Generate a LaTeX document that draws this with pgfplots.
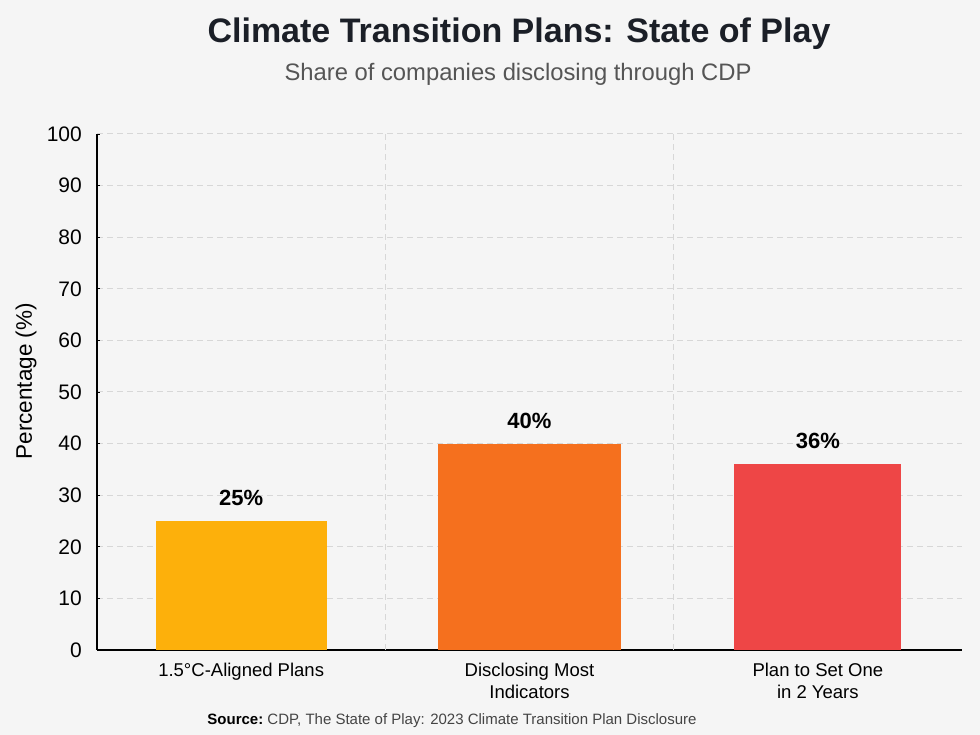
\documentclass[border=0pt]{standalone}
\usepackage{pgfplots}
\pgfplotsset{compat=1.18}
\usepackage{fontspec}
\setmainfont{Liberation Sans}

\definecolor{bg}{HTML}{F5F5F5}
\definecolor{gridc}{HTML}{D7D7D7}
\definecolor{amber}{HTML}{FDB00B}
\definecolor{orangeb}{HTML}{F5701E}
\definecolor{redb}{HTML}{EE4646}
\definecolor{titlec}{HTML}{1B1F27}
\definecolor{subc}{HTML}{555555}
\definecolor{srcc}{HTML}{444444}

\begin{document}
\begin{tikzpicture}[x=1pt,y=1pt]
  \fill[bg] (0,0) rectangle (980,735);
  \useasboundingbox (0,0) rectangle (980,735);

  % headings
  \node[anchor=base, inner sep=0pt, text=titlec,
        font=\fontsize{34}{40}\selectfont\bfseries] at (519,692)
        {Climate Transition Plans: State of Play};
  \node[anchor=base, inner sep=0pt, text=subc,
        font=\fontsize{23.8}{28}\selectfont] at (518,654)
        {Share of companies disclosing through CDP};

  \begin{axis}[
    at={(97pt,85pt)}, anchor=south west,
    scale only axis, width=865pt, height=516pt,
    xmin=-0.5, xmax=2.5, ymin=0, ymax=100,
    ytick={0,10,...,100},
    xtick={0,1,2},
    xticklabels={1.5°C-Aligned Plans, Disclosing Most\\Indicators, Plan to Set One\\in 2 Years},
    extra x ticks={0.5,1.5},
    extra x tick labels={},
    extra x tick style={grid=major, major tick length=0pt},
    ymajorgrids=true,
    grid style={gridc, line width=1pt, dash pattern=on 6pt off 4pt},
    axis x line*=bottom, axis y line*=left,
    axis line style={black, line width=1.2pt, -},
    xtick style={draw=none},
    ytick style={black, line width=0.8pt},
    tick align=inside, major tick length=3pt,
    /pgf/number format/assume math mode=true,
    yticklabel style={font=\fontsize{21}{25}\selectfont, text=black,
                      inner sep=0pt, anchor=east, xshift=-15pt},
    xticklabel style={font=\fontsize{18.5}{21.5}\selectfont, text=black,
                      inner sep=0pt, anchor=north, align=center, yshift=-10pt},
    ylabel={Percentage (\%)},
    ylabel style={font=\fontsize{22.5}{27}\selectfont, text=black, inner sep=0pt,
                  at={(axis description cs:-0.082,0.521)}, anchor=center},
    ybar,
    nodes near coords={\pgfmathprintnumber{\pgfplotspointmeta}\%},
    nodes near coords style={font=\fontsize{22}{26}\selectfont\bfseries,
                             text=black, inner sep=0pt, anchor=south, yshift=15pt},
    clip=false,
  ]
    \addplot[fill=amber, draw=none, bar width=171pt, bar shift=0pt]
      coordinates {(0,25)};
    \addplot[fill=orangeb, draw=none, bar width=183pt, bar shift=0pt]
      coordinates {(1,40)};
    \addplot[fill=redb, draw=none, bar width=167pt, bar shift=0pt]
      coordinates {(2,36)};
  \end{axis}

  % source line
  \node[anchor=base, inner sep=0pt, text=srcc,
        font=\fontsize{15}{18}\selectfont] at (452,10)
        {\textbf{\color{black}Source:}\ CDP, The State of Play: 2023 Climate Transition Plan Disclosure};
\end{tikzpicture}
\end{document}
